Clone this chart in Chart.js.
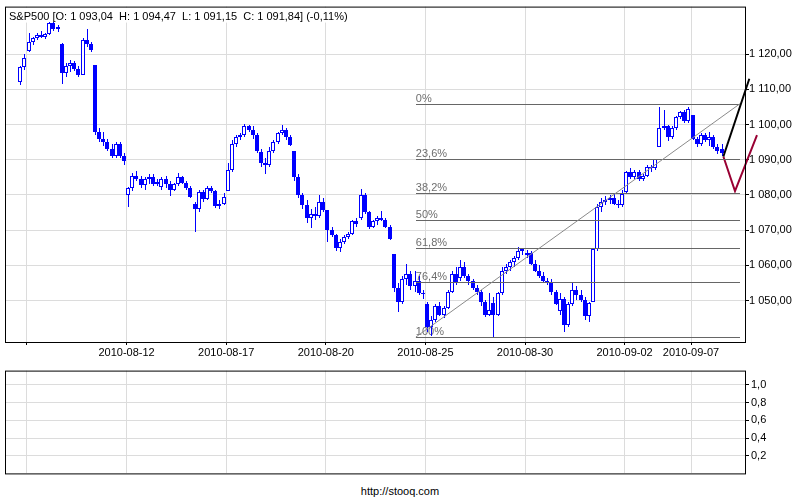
<!DOCTYPE html>
<html><head><meta charset="utf-8">
<script src="https://cdn.jsdelivr.net/npm/chart.js@4.4.0/dist/chart.umd.min.js"></script>
<style>
html,body{margin:0;padding:0;background:#fff;width:800px;height:500px;overflow:hidden}
#c1{position:absolute;left:0;top:0}
#c2{position:absolute;left:0;top:362px}
#foot{position:absolute;left:0;top:485px;width:800px;text-align:center;font:11px 'Liberation Sans',Arial,sans-serif;color:#000}
</style></head><body>
<canvas id="c1" width="800" height="362"></canvas>
<canvas id="c2" width="800" height="120"></canvas>
<div id="foot">http://stooq.com</div>
<script>
// ---------------- DATA ----------------
const symbol = 'S&P500';
const days = ['2010-08-06','2010-08-09','2010-08-10','2010-08-11','2010-08-12','2010-08-13',
  '2010-08-16','2010-08-17','2010-08-18','2010-08-19','2010-08-20',
  '2010-08-23','2010-08-24','2010-08-25','2010-08-26','2010-08-27',
  '2010-08-30','2010-08-31','2010-09-01','2010-09-02','2010-09-03','2010-09-07'];
const barsPerDay = [2,8,8,8,8,8,8,8,8,8,8,8,8,8,8,8,8,8,8,8,8,8];

const opens = [
 1112,1116.3,
 1121,1123.5,1124.5,1125.5,1125,1125.7,1128.8,1127,
 1122.9,1114.5,1116.5,1117.5,1115.8,1114.2,1124,1123,
 1116.9,1098,1096,1095,1093,1091,1094.5,1091,
 1080,1082,1085.5,1084.5,1082.8,1084.5,1085.2,1083,
 1082.2,1084.5,1083,1081.5,1083,1085,1083.5,1082,
 1077.5,1076,1080.8,1078.8,1082,1081,1076.8,1077.5,
 1081.2,1087,1094.5,1096.5,1097,1099.5,1098.5,1097,
 1092.1,1089,1088.5,1092.5,1095,1097.5,1098.5,1096.5,
 1092.4,1085,1080,1077,1073.5,1074.5,1074,1078,
 1075.6,1070,1068.5,1065,1066.5,1068,1069,1072.5,
 1073.4,1080,1075,1071,1072.5,1073.5,1073,1071,
 1063.2,1053.5,1049.5,1056,1057.5,1054,1055.5,1052,
 1049,1042.5,1044.5,1048.5,1046,1048,1052.5,1057.5,
 1056.3,1059.5,1057,1055.5,1053.5,1052.5,1049.5,1046,
 1049.3,1046,1052,1058.5,1059.5,1061,1062,1064,
 1062.9,1063.5,1060.5,1058.5,1057,1055.5,1055,1052.5,
 1046.9,1050.5,1043,1049,1053,1051.5,1050,1045.5,
 1049.7,1064.5,1076.5,1078,1078.5,1079,1077.5,1077,
 1080.7,1086.5,1085,1086.5,1084.5,1085.5,1088,1087.5,
 1093.6,1099,1099.5,1096.5,1099,1102,1103.5,1101,
 1102.6,1096,1094.5,1097,1095.5,1096.5,1093.5,1093.04];
const highs = [
 1116.5,1120,
 1126,1125,1126,1126.5,1126,1129,1129.2,1128.3,
 1123.2,1117.5,1118.2,1118,1116.5,1124.5,1127.2,1123.5,
 1116.9,1099,1098,1095.8,1094.5,1095,1095,1092,
 1082.3,1086.3,1086.7,1085.5,1085,1086,1085.8,1084.5,
 1085,1085.5,1084,1083.5,1086.2,1085.5,1084,1082.5,
 1078,1081.5,1081.5,1082.6,1082.5,1081.5,1078.5,1080.5,
 1089,1095.5,1097,1097.5,1100.1,1100,1099.5,1097.5,
 1093,1090.5,1093.5,1095.5,1098,1099.8,1099,1097,
 1092.4,1086,1080.5,1078.5,1076,1076.5,1080,1079,
 1075.6,1071,1069,1067.5,1068.5,1069.5,1073,1073.5,
 1081.6,1080.5,1075.5,1073,1074,1075.5,1073.5,1071.5,
 1063.2,1055,1057,1060.4,1058.5,1058.5,1057,1053,
 1049.5,1045.5,1049,1049.5,1048.5,1053,1058.5,1059.4,
 1061.5,1061,1057.5,1056,1054.5,1053,1050,1052,
 1051,1052.5,1059.5,1060.5,1061.5,1062.5,1065.2,1065,
 1064.4,1064,1061.5,1060,1058,1056.5,1056,1053,
 1052,1051,1049.5,1055.1,1054,1053,1051,1049.5,
 1065,1077.5,1079,1079.6,1080,1080.5,1078.5,1081.3,
 1086.8,1087.6,1087,1087,1086,1088.4,1088.5,1090.3,
 1105.1,1104,1100,1099.5,1102.5,1103.8,1104,1105,
 1102.6,1096.5,1097.5,1097.5,1097.8,1097,1094.5,1094.47];
const lows = [
 1111.2,1115.5,
 1120.5,1122.5,1124,1124.5,1124.3,1125.3,1126.5,1126.3,
 1111.6,1113.5,1115,1115.2,1113.5,1114,1122,1120.5,
 1097,1095,1094,1092.5,1090.6,1090.5,1090.5,1088.6,
 1076.7,1081,1084,1082,1081.5,1083,1082.5,1082.5,
 1081.5,1082,1079.8,1081,1082.5,1083,1081.5,1079,
 1069.5,1075,1078,1078.5,1080.5,1076.2,1076,1077,
 1081.2,1086.5,1093.5,1095.5,1096.5,1098,1096,1091.8,
 1088,1085.8,1088,1092,1094.5,1097,1095.5,1094,
 1084,1079,1076,1072,1070.7,1073,1073.5,1075,
 1066.7,1068,1064,1063.9,1066,1067.5,1068.5,1071,
 1073,1074.5,1070.3,1070.5,1071.5,1072.5,1070.5,1067.1,
 1052.5,1046.7,1049,1054.5,1053,1052.5,1051.5,1050.5,
 1041,1039.8,1044,1045.5,1045,1047.5,1052,1054.5,
 1055.5,1056.5,1054.5,1053,1051.5,1048.5,1045.4,1045.5,
 1039.7,1045.5,1051.5,1057.5,1058.5,1059.5,1061.5,1063,
 1062,1060,1058,1056.5,1055,1054.5,1051.5,1048.8,
 1046,1040.9,1042.5,1048.5,1050,1049.5,1044.5,1044,
 1049.7,1064,1075,1077,1077.5,1077,1076.3,1076.5,
 1080.4,1084.5,1084.5,1084,1083.9,1085,1086.5,1087.2,
 1093.6,1098.5,1095.3,1096,1098.5,1101.5,1100.5,1100.5,
 1095.5,1093.5,1094,1095,1094,1093,1091.5,1091.15];
const closes = [
 1116.3,1119,
 1123.5,1124.5,1125.5,1125,1125.7,1128.8,1127,1127.8,
 1114.5,1116.5,1117.5,1115.8,1114.2,1124,1123,1121.1,
 1098,1096,1095,1093,1091,1094.5,1091,1089.5,
 1082,1085.5,1084.5,1082.8,1084.5,1085.2,1083,1083.6,
 1084.5,1083,1081.5,1083,1085,1083.5,1082,1079.3,
 1076,1080.8,1078.8,1082,1081,1076.8,1077.5,1079.4,
 1087,1094.5,1096.5,1097,1099.5,1098.5,1097,1092.5,
 1089,1088.5,1092.5,1095,1097.5,1098.5,1096.5,1094.2,
 1085,1080,1077,1073.5,1074.5,1074,1078,1075.6,
 1070,1068.5,1065,1066.5,1068,1069,1072.5,1071.7,
 1080,1075,1071,1072.5,1073.5,1073,1071,1067.4,
 1053.5,1049.5,1056,1057.5,1054,1055.5,1052,1051.9,
 1042.5,1044.5,1048.5,1046,1048,1052.5,1057.5,1055.3,
 1059.5,1057,1055.5,1053.5,1052.5,1049.5,1046,1047.2,
 1046,1052,1058.5,1059.5,1061,1062,1064,1064.6,
 1063.5,1060.5,1058.5,1057,1055.5,1055,1052.5,1048.9,
 1050.5,1043,1049,1053,1051.5,1050,1045.5,1049.3,
 1064.5,1076.5,1078,1078.5,1079,1077.5,1077,1080.3,
 1086.5,1085,1086.5,1084.5,1085.5,1088,1087.5,1090.1,
 1099,1099.5,1096.5,1099,1102,1103.5,1101,1104.5,
 1096,1094.5,1097,1095.5,1096.5,1093.5,1092.5,1091.84];

const tickDates  = ['2010-08-09','2010-08-12','2010-08-17','2010-08-20','2010-08-25','2010-08-30','2010-09-02','2010-09-07'];
const tickLabels = ['','2010-08-12','2010-08-17','2010-08-20','2010-08-25','2010-08-30','2010-09-02','2010-09-07'];
const priceTicks = [1050,1060,1070,1080,1090,1100,1110,1120];
const volTicks = [0.2,0.4,0.6,0.8,1.0];

// Fibonacci retracement drawing (bar-index / price coordinates)
const fibLabels = ['0%','23,6%','38,2%','50%','61,8%','76,4%','100%'];
const fibPrices = [1105.9,1090.2,1080.6,1072.8,1064.9,1055.2,1039.6];
const fibRange  = [95.2,173.3];
// projection lines (bar-index, price)
const upPathX = [169.3,175.55];  const upPathY = [1090.9,1113.0];
const vPathX  = [169.3,172.1,177.4]; const vPathY = [1090.9,1081.1,1097.0];

// view window
const xMin = -3.8, xMax = 174.51, yMin = 1038.2, yMax = 1133.5;
const vMin = 0, vMax = 1.162;

// ---------------- HELPERS ----------------
const FONT = "'Liberation Sans', Arial, sans-serif";
const BLUE = '#0000ff';
const GRID = '#dcdcdc';
function dayStart(date){
  const k = days.indexOf(date); let s = 0;
  for (let j=0;j<k;j++) s += barsPerDay[j];
  return s - 0.5;
}
function fmtNum(v, dec){
  const s = v.toFixed(dec); const parts = s.split('.');
  let ip = parts[0], neg = '';
  if (ip[0]==='-'){neg='-'; ip=ip.slice(1);}
  ip = ip.replace(/\B(?=(\d{3})+(?!\d))/g,' ');
  return neg + ip + (parts[1]!==undefined ? ','+parts[1] : '');
}
const last = closes.length-1;
const chg = (closes[last]-opens[last])/opens[last]*100;
const titleText = symbol+' [O: '+fmtNum(opens[last],2)+'  H: '+fmtNum(highs[last],2)+'  L: '+fmtNum(lows[last],2)+'  C: '+fmtNum(closes[last],2)+'] ('+fmtNum(chg,2)+'%)';

const snap = {
  id:'snap',
  afterDatasetsUpdate(chart){
    chart.data.datasets.forEach((ds,di)=>{
      if (ds.type==='line') return;
      chart.getDatasetMeta(di).data.forEach(el=>{
        el.x = Math.floor(el.x)+ (ds.barThickness%2 ? 0.5 : 0);
        el.y = Math.round(el.y);
        el.base = Math.round(el.base);
      });
    });
  }
};
const frame = {
  id:'frame',
  afterDraw(chart){
    const a = chart.chartArea, ctx = chart.ctx;
    ctx.save(); ctx.strokeStyle='#000'; ctx.lineWidth=1;
    ctx.strokeRect(a.left+0.5, a.top+0.5, a.right-a.left, a.bottom-a.top);
    ctx.restore();
  }
};
const deco = {
  id:'deco',
  beforeDatasetsDraw(chart){
    const ctx = chart.ctx, a = chart.chartArea, xs = chart.scales.x, ys = chart.scales.y;
    ctx.save();
    ctx.font = '11px '+FONT;
    const w = ctx.measureText(titleText).width;
    ctx.fillStyle='#fff'; ctx.fillRect(a.left+1, a.top+1, w+8, 15);
    ctx.fillStyle='#000'; ctx.textBaseline='alphabetic'; ctx.textAlign='left';
    ctx.fillText(titleText, a.left+4, a.top+13);
    ctx.fillStyle='#6e6e6e';
    const x0 = xs.getPixelForValue(fibRange[0]);
    fibPrices.forEach((p,k)=>{
      const y = Math.round(ys.getPixelForValue(p));
      ctx.fillText(fibLabels[k], x0, y-2);
    });
    ctx.restore();
  },
  afterDatasetsDraw(chart){
    const ctx = chart.ctx, xs = chart.scales.x, ys = chart.scales.y;
    const x0 = Math.round(xs.getPixelForValue(fibRange[0])), x1 = Math.round(xs.getPixelForValue(fibRange[1]));
    ctx.save();
    ctx.strokeStyle='#666'; ctx.lineWidth=1;
    fibPrices.forEach(p=>{
      const y = Math.round(ys.getPixelForValue(p))+0.5;
      ctx.beginPath(); ctx.moveTo(x0,y); ctx.lineTo(x1,y); ctx.stroke();
    });
    ctx.strokeStyle='#8a8a8a';
    ctx.beginPath();
    ctx.moveTo(xs.getPixelForValue(fibRange[0]), ys.getPixelForValue(fibPrices[6]));
    ctx.lineTo(xs.getPixelForValue(fibRange[1]), ys.getPixelForValue(fibPrices[0]));
    ctx.stroke();
    ctx.restore();
  }
};

// ---------------- MAIN CHART ----------------
const idx = closes.map((c,i)=>i);
new Chart(document.getElementById('c1'), {
  type:'bar',
  data:{ datasets:[
    { type:'line', order:-1, data: upPathX.map((x,k)=>({x, y:upPathY[k]})), borderColor:'#000', borderWidth:2,
      pointRadius:0, tension:0, clip:false },
    { type:'line', order:-1, data: vPathX.map((x,k)=>({x, y:vPathY[k]})), borderColor:'#990033', borderWidth:2,
      pointRadius:0, tension:0, clip:false },
    { order:0, data: idx.map(i=>({x:i, y:[opens[i], closes[i]]})),
      backgroundColor: idx.map(i=> closes[i]>=opens[i] ? '#ffffff' : BLUE),
      borderColor: BLUE, borderWidth:1, borderSkipped:false, barThickness:4, grouped:false, inflateAmount:0 },
    { order:1, data: idx.map(i=>({x:i, y:[lows[i], highs[i]]})),
      backgroundColor: BLUE, borderWidth:0, barThickness:1, grouped:false, inflateAmount:0 }
  ]},
  options:{
    responsive:false, animation:false, events:[],
    layout:{ padding:{left:5, top:4, right:0, bottom:0} },
    plugins:{ legend:{display:false}, tooltip:{enabled:false}, title:{display:false} },
    scales:{
      x:{ type:'linear', min:xMin, max:xMax, offset:false,
        afterBuildTicks: s => { s.ticks = tickDates.map(d=>({value: dayStart(d)})); },
        afterFit: s => { s.height = 20; },
        ticks:{ autoSkip:false, maxRotation:0, minRotation:0, padding:1, color:'#000', font:{family:FONT, size:11},
          callback:(v,i)=>tickLabels[i] },
        grid:{ offset:false, color:GRID, tickColor:'#000', tickLength:3 },
        border:{ display:false } },
      y:{ position:'right', min:yMin, max:yMax,
        afterBuildTicks: s => { s.ticks = priceTicks.map(v=>({value:v})); },
        afterFit: s => { s.width = 55; },
        ticks:{ padding:0, color:'#000', font:{family:FONT, size:11}, callback:v=>fmtNum(v,2) },
        grid:{ color:GRID, tickColor:'#000', tickLength:4 },
        border:{ display:false } }
    }
  },
  plugins:[snap, deco, frame]
});

// ---------------- LOWER PANEL ----------------
new Chart(document.getElementById('c2'), {
  type:'bar',
  data:{ datasets:[ { data:[], backgroundColor:BLUE } ] },
  options:{
    responsive:false, animation:false, events:[],
    layout:{ padding:{left:5, top:3, right:0, bottom:0} },
    plugins:{ legend:{display:false}, tooltip:{enabled:false} },
    scales:{
      x:{ type:'linear', min:xMin, max:xMax, offset:false,
        afterBuildTicks: s => { s.ticks = tickDates.map(d=>({value: dayStart(d)})); },
        afterFit: s => { s.height = 2; },
        ticks:{ display:false },
        grid:{ offset:false, color:GRID, drawTicks:false },
        border:{ display:false } },
      y:{ position:'right', min:vMin, max:vMax,
        afterBuildTicks: s => { s.ticks = volTicks.map(v=>({value:v})); },
        afterFit: s => { s.width = 55; },
        ticks:{ padding:2, color:'#000', font:{family:FONT, size:11}, callback:v=>fmtNum(v,1) },
        grid:{ color:GRID, tickColor:'#000', tickLength:4 },
        border:{ display:false } }
    }
  },
  plugins:[frame]
});
</script>
</body></html>
